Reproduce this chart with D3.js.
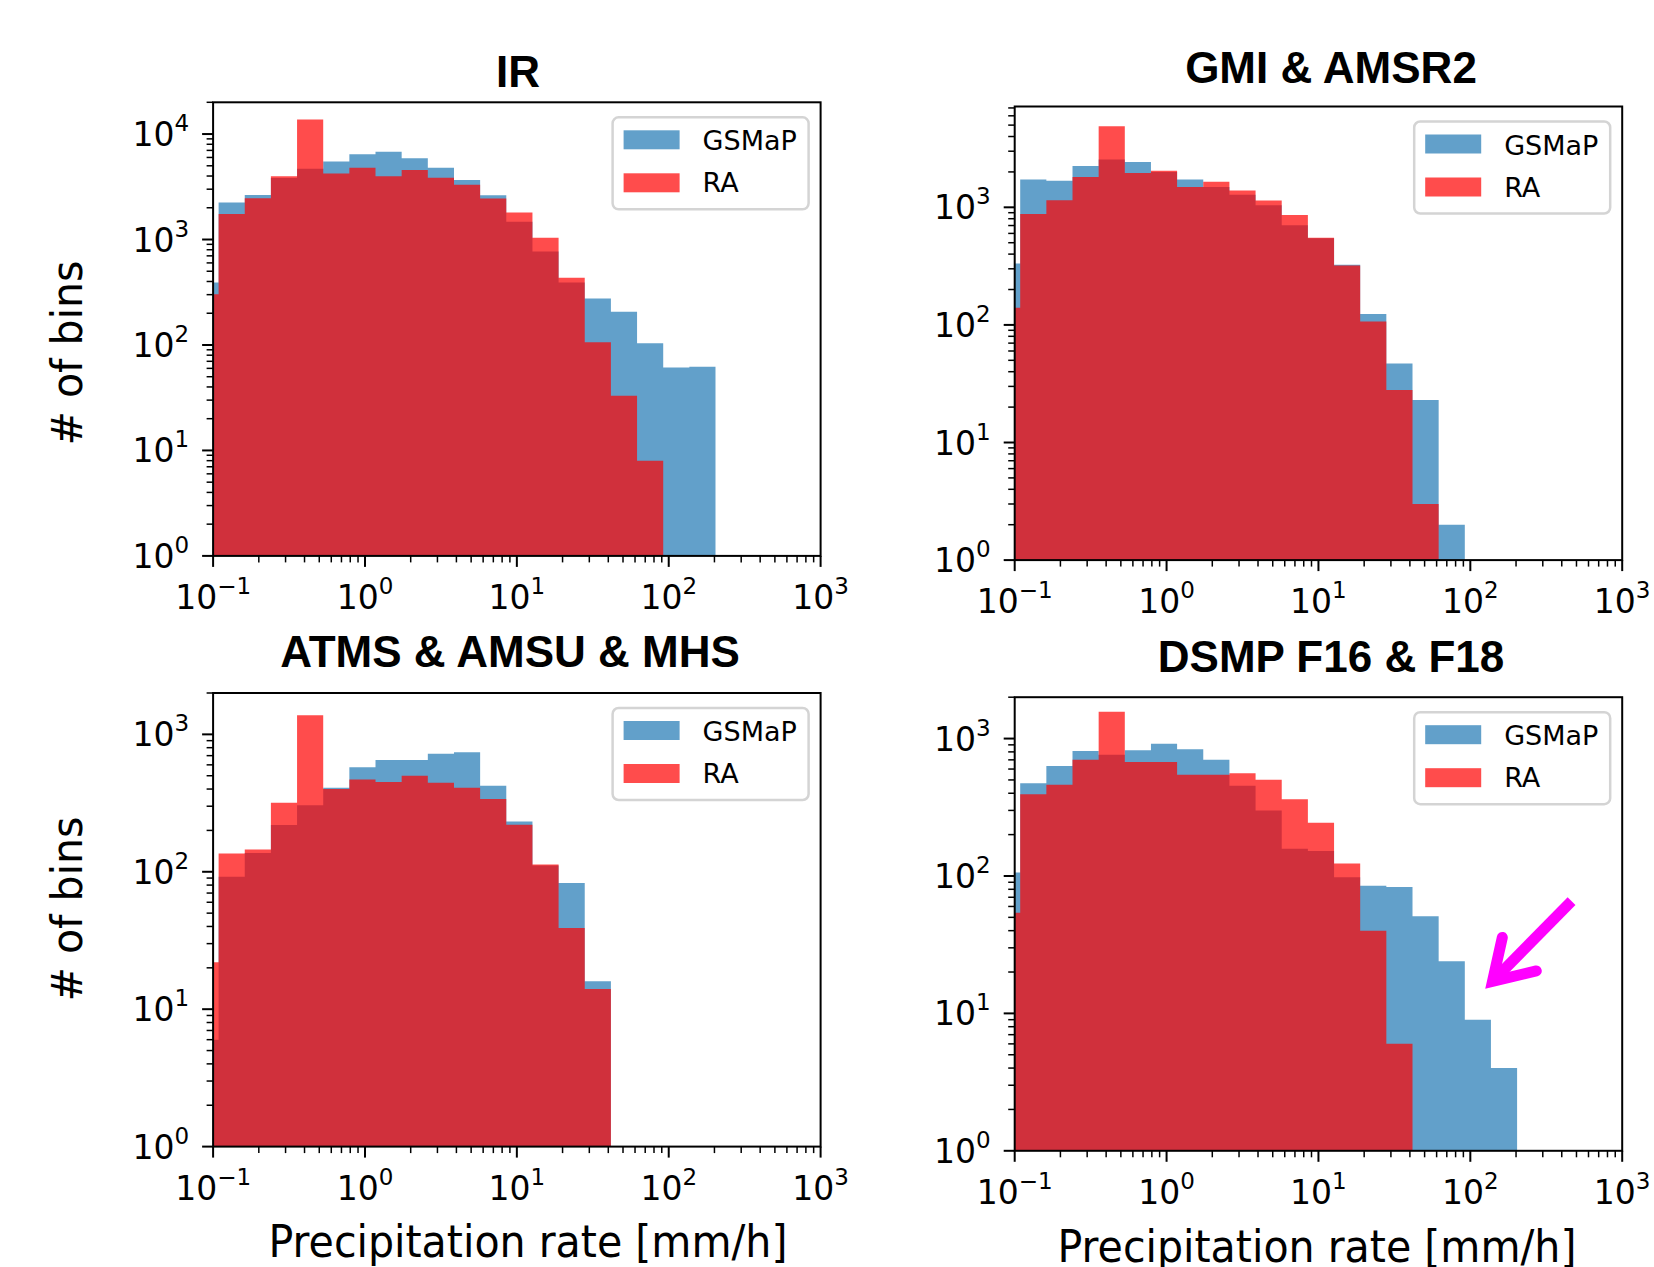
<!DOCTYPE html>
<html>
<head>
<meta charset="utf-8">
<script src="https://cdn.jsdelivr.net/npm/d3@7"></script>
<style>
    body { margin: 0; background: #fff; }
    svg text { font-family: "DejaVu Sans", sans-serif; fill: #000; }
</style>
</head>
<body>
<div id="chart"></div>
<script>

// histogram bin edges [mm/h], log spaced
var binEdges = [0.0731, 0.1087, 0.1616, 0.2402, 0.3571, 0.5309, 0.7892, 1.173, 1.744, 2.593,
    3.855, 5.731, 8.520, 12.67, 18.83, 27.99, 41.62, 61.87, 91.97, 136.7, 203.2];

var panelTitles = ["IR", "GMI & AMSR2", "ATMS & AMSU & MHS", "DSMP F16 & F18"];
var seriesNames = ["GSMaP", "RA"];

// counts per bin
var irGsmap   = [391, 2245, 2636, 3820, 4688, 5500, 6450, 6790, 5910, 4790, 3660, 2635, 1472, 770, 391, 276, 206, 104, 61, 62];
var irRa      = [303, 1741, 2468, 3990, 13750, 4230, 4790, 3990, 4550, 3850, 3300, 2450, 1805, 1038, 433, 106, 33, 8, 0, 0];
var gmiGsmap  = [333, 1725, 1679, 2244, 2552, 2432, 2000, 1725, 1487, 1282, 1041, 704, 545, 324, 124, 47, 23, 2, 0, 0];
var gmiRa     = [140, 879, 1151, 1808, 4900, 1960, 2042, 1487, 1646, 1390, 1143, 861, 552, 320, 107, 28, 3, 0, 0, 0];
var atmsGsmap = [6, 92, 137, 219, 305, 408, 576, 652, 652, 724, 741, 422, 232, 111, 83, 16, 0, 0, 0, 0];
var atmsRa    = [22, 136, 145, 318, 1375, 401, 469, 451, 499, 444, 408, 338, 220, 113, 39, 14, 0, 0, 0, 0];
var dsmpGsmap = [106, 473, 631, 813, 763, 823, 918, 837, 700, 454, 300, 158, 152, 98, 85, 83, 51, 24, 9, 4];
var dsmpRa    = [54, 393, 462, 700, 1570, 676, 676, 546, 546, 559, 501, 361, 244, 123, 40, 6, 0, 0, 0, 0];

var xTickValues = [0.1, 1, 10, 100, 1000];
var xDomain = [0.1, 1000];
var yMaxValues = [2.0e4, 7.2e3, 2.0e3, 2.0e3];

// arrow in the DSMP panel, data coordinates [mm/h, count]
var arrowTip = [140, 17.1];
var arrowTail = [464, 65.6];

var colors = ["#1f77b4", "#ff0000"];

// layout
var width = 1654, height = 1267;
var plotW = 607.5, plotH = 453.6;
var panels = [
    { left: 213.1, top: 102.3, title: [518, 87], series: [irGsmap, irRa] },
    { left: 1014.7, top: 106.5, title: [1331, 83], series: [gmiGsmap, gmiRa] },
    { left: 213.1, top: 693.0, title: [510, 667], series: [atmsGsmap, atmsRa] },
    { left: 1014.7, top: 697.2, title: [1331, 672], series: [dsmpGsmap, dsmpRa] }
];

var svg = d3.select("#chart")
    .append("svg")
    .attr("width", width)
    .attr("height", height);

function expLabel(sel, p) {
    // 10^p, matplotlib style
    var e = p < 0 ? "\u2212" + (-p) : "" + p;
    sel.append("tspan").text("10");
    sel.append("tspan").attr("font-size", 23).attr("dy", -15).text(e);
}

panels.forEach(function (pn, idx) {

    var g = svg.append("g")
        .attr("transform", "translate(" + pn.left + "," + pn.top + ")");

    var x = d3.scaleLog().domain(xDomain).range([0, plotW]);
    var y = d3.scaleLog().domain([1, yMaxValues[idx]]).range([plotH, 0]);

    g.append("clipPath")
        .attr("id", "clip" + idx)
        .append("rect")
        .attr("width", plotW)
        .attr("height", plotH);

    // step areas, GSMaP under RA, both alpha 0.7
    var area = d3.area()
        .curve(d3.curveStepAfter)
        .x(function (d) { return x(d.e); })
        .y0(plotH)
        .y1(function (d) { return d.v > 0 ? y(d.v) : plotH; });

    pn.series.forEach(function (vals, s) {
        var pts = vals.map(function (v, i) { return { e: binEdges[i], v: v }; });
        pts.push({ e: binEdges[vals.length], v: vals[vals.length - 1] });
        g.append("path")
            .attr("clip-path", "url(#clip" + idx + ")")
            .attr("d", area(pts))
            .attr("fill", colors[s])
            .attr("fill-opacity", 0.7);
    });

    // minor + major ticks
    var xMinor = [], yMinor = [], yMajor = [];
    for (var p = -1; p < 3; p++) {
        for (var k = 2; k < 10; k++) xMinor.push(k * Math.pow(10, p));
    }
    var yTop = Math.log10(yMaxValues[idx]);
    for (var q = 0; q <= Math.floor(yTop); q++) {
        yMajor.push(q);
        for (var m = 2; m < 10; m++) {
            if (m * Math.pow(10, q) <= yMaxValues[idx]) yMinor.push(m * Math.pow(10, q));
        }
    }

    g.selectAll(".xminor")
        .data(xMinor)
        .enter()
        .append("line")
        .attr("x1", function (d) { return x(d); })
        .attr("x2", function (d) { return x(d); })
        .attr("y1", plotH)
        .attr("y2", plotH + 6.5)
        .attr("stroke", "#000")
        .attr("stroke-width", 1.5);

    g.selectAll(".xmajor")
        .data(xTickValues)
        .enter()
        .append("line")
        .attr("x1", function (d) { return x(d); })
        .attr("x2", function (d) { return x(d); })
        .attr("y1", plotH)
        .attr("y2", plotH + 11)
        .attr("stroke", "#000")
        .attr("stroke-width", 2);

    g.selectAll(".xlab")
        .data(xTickValues)
        .enter()
        .append("text")
        .attr("x", function (d) { return x(d); })
        .attr("y", plotH + 53)
        .attr("text-anchor", "middle")
        .attr("font-size", 33)
        .each(function (d) { expLabel(d3.select(this), Math.round(Math.log10(d))); });

    g.selectAll(".yminor")
        .data(yMinor)
        .enter()
        .append("line")
        .attr("x1", -6.5)
        .attr("x2", 0)
        .attr("y1", function (d) { return y(d); })
        .attr("y2", function (d) { return y(d); })
        .attr("stroke", "#000")
        .attr("stroke-width", 1.5);

    g.selectAll(".ymajor")
        .data(yMajor)
        .enter()
        .append("line")
        .attr("x1", -11)
        .attr("x2", 0)
        .attr("y1", function (d) { return y(Math.pow(10, d)); })
        .attr("y2", function (d) { return y(Math.pow(10, d)); })
        .attr("stroke", "#000")
        .attr("stroke-width", 2);

    g.selectAll(".ylab")
        .data(yMajor)
        .enter()
        .append("text")
        .attr("x", -24)
        .attr("y", function (d) { return y(Math.pow(10, d)) + 12; })
        .attr("text-anchor", "end")
        .attr("font-size", 33)
        .each(function (d) { expLabel(d3.select(this), d); });

    // frame
    g.append("rect")
        .attr("width", plotW)
        .attr("height", plotH)
        .attr("fill", "none")
        .attr("stroke", "#000")
        .attr("stroke-width", 2);

    // legend
    var lg = g.append("g")
        .attr("transform", "translate(" + (plotW - 12 - 196) + ",15)");
    lg.append("rect")
        .attr("width", 196)
        .attr("height", 92)
        .attr("rx", 6)
        .attr("fill", "#fff")
        .attr("fill-opacity", 0.8)
        .attr("stroke", "#d4d4d4")
        .attr("stroke-width", 2.5);
    seriesNames.forEach(function (name, s) {
        lg.append("rect")
            .attr("x", 11)
            .attr("y", 13 + s * 43)
            .attr("width", 56)
            .attr("height", 19)
            .attr("fill", colors[s])
            .attr("fill-opacity", 0.7);
        lg.append("text")
            .attr("x", 90)
            .attr("y", 33 + s * 42)
            .attr("font-size", 27)
            .text(name);
    });

    // panel title
    svg.append("text")
        .attr("x", pn.title[0])
        .attr("y", pn.title[1])
        .attr("text-anchor", "middle")
        .style("font-family", "'Liberation Sans', Arial, sans-serif")
        .style("font-weight", "bold")
        .attr("font-size", 44)
        .text(panelTitles[idx]);

    // magenta arrow on DSMP panel
    if (idx === 3) {
        var tx = x(arrowTip[0]), ty = y(arrowTip[1]);
        var sx = x(arrowTail[0]), sy = y(arrowTail[1]);
        var ang = Math.atan2(sy - ty, sx - tx);
        var half = 32 * Math.PI / 180, len = 45;
        var w1 = [tx + len * Math.cos(ang - half), ty + len * Math.sin(ang - half)];
        var w2 = [tx + len * Math.cos(ang + half), ty + len * Math.sin(ang + half)];
        g.append("path")
            .attr("d", "M" + sx + "," + sy + "L" + tx + "," + ty)
            .attr("stroke", "#ff00ff")
            .attr("stroke-width", 11)
            .attr("fill", "none");
        g.append("path")
            .attr("d", "M" + w1[0] + "," + w1[1] + "L" + tx + "," + ty + "L" + w2[0] + "," + w2[1])
            .attr("stroke", "#ff00ff")
            .attr("stroke-width", 11)
            .attr("stroke-linecap", "round")
            .attr("stroke-linejoin", "miter")
            .attr("stroke-miterlimit", 10)
            .attr("fill", "none");
    }
});

// axis labels
[353, 909].forEach(function (cy) {
    svg.append("text")
        .attr("transform", "translate(82," + cy + ") rotate(-90)")
        .attr("text-anchor", "middle")
        .attr("font-size", 42)
        .attr("textLength", 185)
        .attr("lengthAdjust", "spacingAndGlyphs")
        .text("# of bins");
});

[[528, 1257], [1317, 1262]].forEach(function (pos) {
    svg.append("text")
        .attr("x", pos[0])
        .attr("y", pos[1])
        .attr("text-anchor", "middle")
        .attr("font-size", 45)
        .attr("textLength", 519)
        .attr("lengthAdjust", "spacingAndGlyphs")
        .text("Precipitation rate [mm/h]");
});

</script>
</body>
</html>
